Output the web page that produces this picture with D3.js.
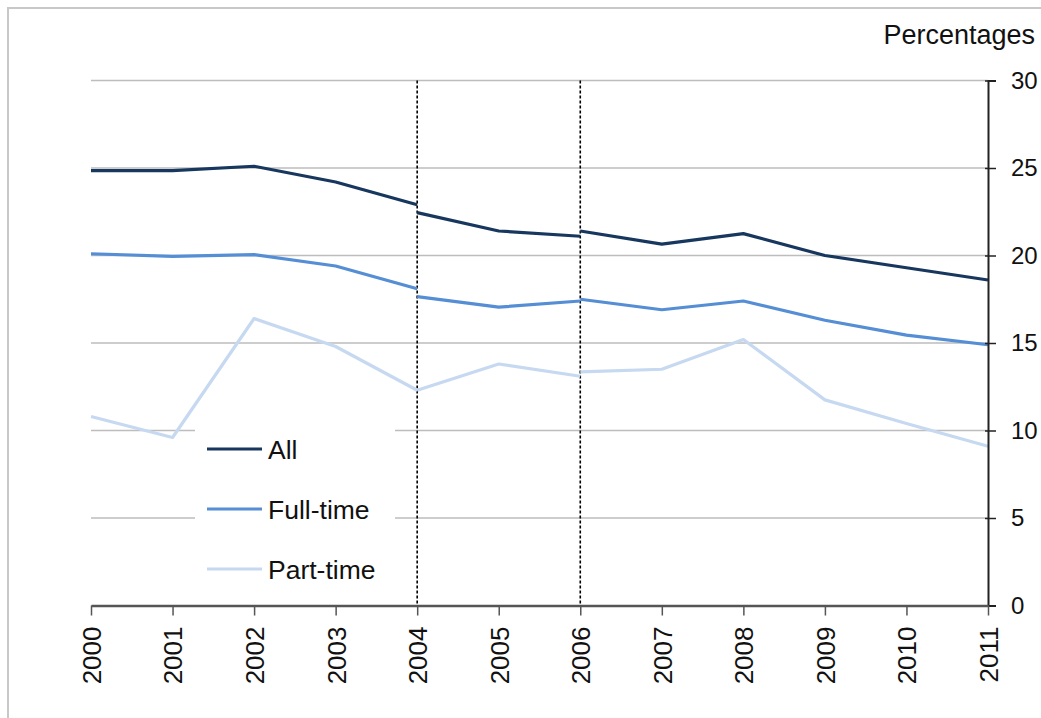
<!DOCTYPE html>
<html>
<head>
<meta charset="utf-8">
<script src="https://cdn.jsdelivr.net/npm/d3@7"></script>
<style>
  body { margin: 0; background: #fff; }
  svg text { font-family: "Liberation Sans", Arial, sans-serif; fill: #111; }
</style>
</head>
<body>
<svg width="1041" height="718"></svg>
<script>
var svg = d3.select("svg"),
    width = +svg.attr("width"),
    height = +svg.attr("height");

// years on the x axis
const years = [2000, 2001, 2002, 2003, 2004, 2005, 2006, 2007, 2008, 2009, 2010, 2011];
// series breaks: the line restarts on a new basis at these years
const breakYears = [2004, 2006];
const yTicks = [0, 5, 10, 15, 20, 25, 30];

// values on the new basis (used from each break onwards)
const allValues  = [24.85, 24.85, 25.1, 24.2, 22.45, 21.4, 21.4, 20.65, 21.25, 20.0, 19.3, 18.6];
const fullValues = [20.1, 19.95, 20.05, 19.4, 17.65, 17.05, 17.5, 16.9, 17.4, 16.3, 15.45, 14.9];
const partValues = [10.8, 9.6, 16.4, 14.8, 12.3, 13.8, 13.35, 13.5, 15.2, 11.75, 10.4, 9.1];
// values at the break years on the old basis (end of the earlier segment)
const allBefore  = [22.9, 21.1];
const fullBefore = [18.1, 17.4];
const partBefore = [12.3, 13.1];

const seriesNames  = ["All", "Full-time", "Part-time"];
const seriesColors = ["#17375e", "#558ed5", "#c6d9f1"];

var x = d3.scaleLinear().domain([2000, 2011]).range([91, 988]);
var y = d3.scaleLinear().domain([0, 30]).range([605.5, 80.5]);

// outer frame
svg.append("rect")
    .attr("x", 8).attr("y", 8)
    .attr("width", 1200).attr("height", 1000)
    .style("fill", "none")
    .style("stroke", "#c8c8c8")
    .style("stroke-width", 2);

// gridlines
svg.append("g")
    .selectAll("line")
    .data(yTicks.filter(function(d) { return d > 0; }))
    .enter().append("line")
    .attr("x1", x(2000)).attr("x2", x(2011))
    .attr("y1", function(d) { return y(d); })
    .attr("y2", function(d) { return y(d); })
    .style("stroke", "#bdbdbd")
    .style("stroke-width", 1.5);

// dotted lines at the series breaks
svg.append("g")
    .selectAll("line")
    .data(breakYears)
    .enter().append("line")
    .attr("x1", function(d) { return x(d); })
    .attr("x2", function(d) { return x(d); })
    .attr("y1", y(30)).attr("y2", y(0))
    .style("stroke", "#000")
    .style("stroke-width", 1.6)
    .style("stroke-dasharray", "3,2");

// split one series into segments at the break years
function segments(values, before) {
  var segs = [], cur = [];
  years.forEach(function(yr, i) {
    var b = breakYears.indexOf(yr);
    if (b >= 0 && cur.length) {
      cur.push({year: yr, value: before[b]});
      segs.push(cur);
      cur = [];
    }
    cur.push({year: yr, value: values[i]});
  });
  segs.push(cur);
  return segs;
}

var series = [
  segments(allValues, allBefore),
  segments(fullValues, fullBefore),
  segments(partValues, partBefore)
];

var line = d3.line()
    .x(function(d) { return x(d.year); })
    .y(function(d) { return y(d.value); });

// draw light series first so the darker ones sit on top
[2, 1, 0].forEach(function(s) {
  svg.append("g")
      .selectAll("path")
      .data(series[s])
      .enter().append("path")
      .attr("d", line)
      .style("fill", "none")
      .style("stroke", seriesColors[s])
      .style("stroke-width", 3.2)
      .style("stroke-linejoin", "round");
});

// legend
var legend = svg.append("g");
legend.append("rect")
    .attr("x", 195).attr("y", 424)
    .attr("width", 200).attr("height", 170)
    .style("fill", "#fff");
var item = legend.selectAll("g")
    .data(seriesNames)
    .enter().append("g")
    .attr("transform", function(d, i) { return "translate(0," + (449 + i * 60) + ")"; });
item.append("line")
    .attr("x1", 207).attr("x2", 262)
    .style("stroke", function(d, i) { return seriesColors[i]; })
    .style("stroke-width", 3.2);
item.append("text")
    .attr("x", 268).attr("dy", "0.36em")
    .style("font-size", "26.5px")
    .text(function(d) { return d; });

// right value axis
var yAxis = svg.append("g")
    .attr("transform", "translate(" + x(2011) + ",0)")
    .call(d3.axisRight(y).tickValues(yTicks).tickSize(8).tickPadding(15));
yAxis.select(".domain").style("stroke", "#222").style("stroke-width", 2);
yAxis.selectAll(".tick line").attr("x1", -3).style("stroke", "#222").style("stroke-width", 1.5);
yAxis.selectAll(".tick text")
    .style("font-size", "24px")
    .style("font-family", "Liberation Sans, Arial, sans-serif")
    .style("fill", "#111");

// bottom year axis
var xAxis = svg.append("g")
    .attr("transform", "translate(0," + y(0) + ")")
    .call(d3.axisBottom(x).tickValues(years).tickFormat(d3.format("d")).tickSize(10).tickSizeOuter(0));
xAxis.select(".domain").style("stroke", "#555").style("stroke-width", 2.5);
xAxis.selectAll(".tick line").style("stroke", "#555").style("stroke-width", 1.5);
xAxis.selectAll(".tick text")
    .attr("transform", "rotate(-90)")
    .attr("x", -21).attr("y", 0).attr("dy", "0.36em")
    .style("text-anchor", "end")
    .style("font-size", "26px")
    .style("font-family", "Liberation Sans, Arial, sans-serif")
    .style("fill", "#111");

// unit label
svg.append("text")
    .attr("x", 1035).attr("y", 44)
    .style("text-anchor", "end")
    .style("font-size", "27px")
    .text("Percentages");
</script>
</body>
</html>
